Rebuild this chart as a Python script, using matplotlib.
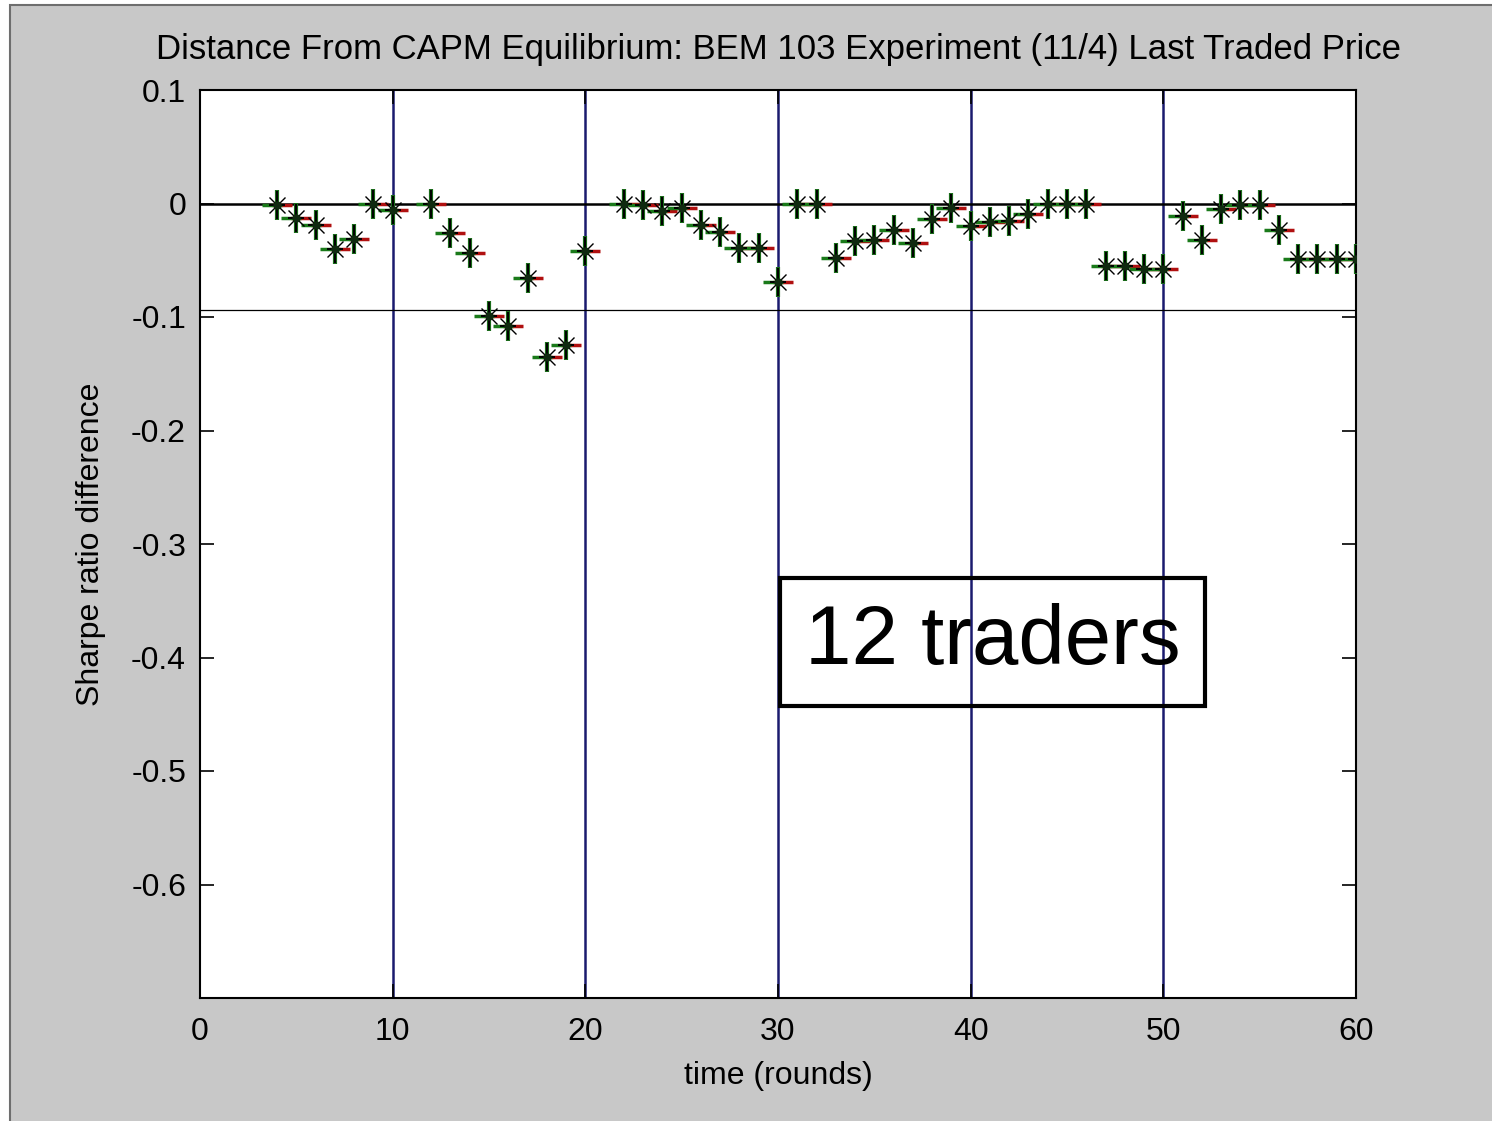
import matplotlib
matplotlib.use("Agg")
import matplotlib.pyplot as plt
import matplotlib.transforms as mtransforms
from matplotlib.patches import Rectangle

rounds = [4, 5, 6, 7, 8, 9, 10, 12, 13, 14, 15, 16, 17, 18, 19, 20,
          22, 23, 24, 25, 26, 27, 28, 29, 30, 31, 32, 33, 34, 35, 36, 37,
          38, 39, 40, 41, 42, 43, 44, 45, 46, 47, 48, 49, 50, 51, 52, 53,
          54, 55, 56, 57, 58, 59, 60]
sharpe_diff = [-0.001, -0.013, -0.019, -0.040, -0.031, 0.000, -0.006,
               0.000, -0.026, -0.044, -0.099, -0.108, -0.066, -0.135, -0.125, -0.042,
               0.000, -0.001, -0.007, -0.004, -0.019, -0.025, -0.039, -0.039,
               -0.069, 0.000, 0.000, -0.048, -0.033, -0.032, -0.023, -0.035,
               -0.014, -0.004, -0.020, -0.016, -0.015, -0.009, 0.000, 0.000,
               0.000, -0.055, -0.055, -0.058, -0.058, -0.011, -0.032, -0.005,
               -0.001, -0.001, -0.023, -0.049, -0.049, -0.049, -0.049]
period_bounds = [10, 20, 30, 40, 50]
equilibrium = 0.0
threshold = -0.094
x_ticks = [0, 10, 20, 30, 40, 50, 60]
y_ticks = [0.1, 0.0, -0.1, -0.2, -0.3, -0.4, -0.5, -0.6]
y_ticklabels = ["0.1", "0", "-0.1", "-0.2", "-0.3", "-0.4", "-0.5", "-0.6"]

plt.rcParams['font.family'] = ['Liberation Sans', 'DejaVu Sans']

W, H = 1492, 1121
fig = plt.figure(figsize=(W / 100, H / 100), dpi=100, facecolor='white')
fig.patches.append(Rectangle((10 / W, -0.1), 1.2, 1.1 - 5 / H,
                             transform=fig.transFigure, facecolor='#c8c8c8',
                             edgecolor='#6e6e6e', linewidth=1.5, zorder=-10))

ax = fig.add_axes([200 / W, 1 - 998 / H, (1356 - 200) / W, (998 - 90) / H])
ax.set_facecolor('white')
ax.set_xlim(0, 60)
ax.set_ylim(-0.7, 0.1)

for xb in period_bounds:
    ax.axvline(xb, color='#1a1a6e', linewidth=1.8, zorder=1)
ax.axhline(equilibrium, color='black', linewidth=1.8, zorder=1)
ax.axhline(threshold, color='black', linewidth=0.9, zorder=1)

off_r = mtransforms.ScaledTranslation(5 / 100, 0, fig.dpi_scale_trans)
off_l = mtransforms.ScaledTranslation(-5 / 100, 0, fig.dpi_scale_trans)
ax.plot(rounds, sharpe_diff, linestyle='none', marker='_', markersize=15,
        markeredgewidth=2.5, color='#b01010', transform=ax.transData + off_r, zorder=3)
ax.plot(rounds, sharpe_diff, linestyle='none', marker='_', markersize=15,
        markeredgewidth=2.5, color='#1a7a1a', transform=ax.transData + off_l, zorder=3)
ax.plot(rounds, sharpe_diff, linestyle='none', marker='|', markersize=21,
        markeredgewidth=3, color='#1a6a1a', zorder=3)
ax.plot(rounds, sharpe_diff, linestyle='none', marker='|', markersize=20,
        markeredgewidth=1.4, color='black', zorder=4)
ax.plot(rounds, sharpe_diff, linestyle='none', marker='_', markersize=12,
        markeredgewidth=1.4, color='black', zorder=4)
ax.plot(rounds, sharpe_diff, linestyle='none', marker='x', markersize=11,
        markeredgewidth=1.0, color='black', zorder=4)
ax.plot(rounds, sharpe_diff, linestyle='none', marker='o', markersize=6,
        markeredgewidth=0, color='#102a10', zorder=5)

ax.set_xticks(x_ticks)
ax.set_xticklabels([str(t) for t in x_ticks])
ax.set_yticks(y_ticks)
ax.set_yticklabels(y_ticklabels)
ax.tick_params(direction='in', length=10, width=1.2, top=True, right=True,
               labelsize=23, colors='black')
ax.tick_params(axis='x', pad=14)
ax.tick_params(axis='y', pad=10)
for s in ax.spines.values():
    s.set_linewidth(1.5)

ax.set_title("Distance From CAPM Equilibrium: BEM 103 Experiment (11/4) Last Traded Price",
             fontsize=25, pad=22)
ax.set_xlabel("time (rounds)", fontsize=23, labelpad=10)
ax.set_ylabel("Sharpe ratio difference", fontsize=23, labelpad=18)

ax.text(0.6855, 0.3916, "12 traders", transform=ax.transAxes, fontsize=60,
        ha='center', va='center', zorder=6,
        bbox=dict(boxstyle='square,pad=0.3', facecolor='none',
                  edgecolor='black', linewidth=3))

fig.savefig("out.png", dpi=100, facecolor=fig.get_facecolor())
